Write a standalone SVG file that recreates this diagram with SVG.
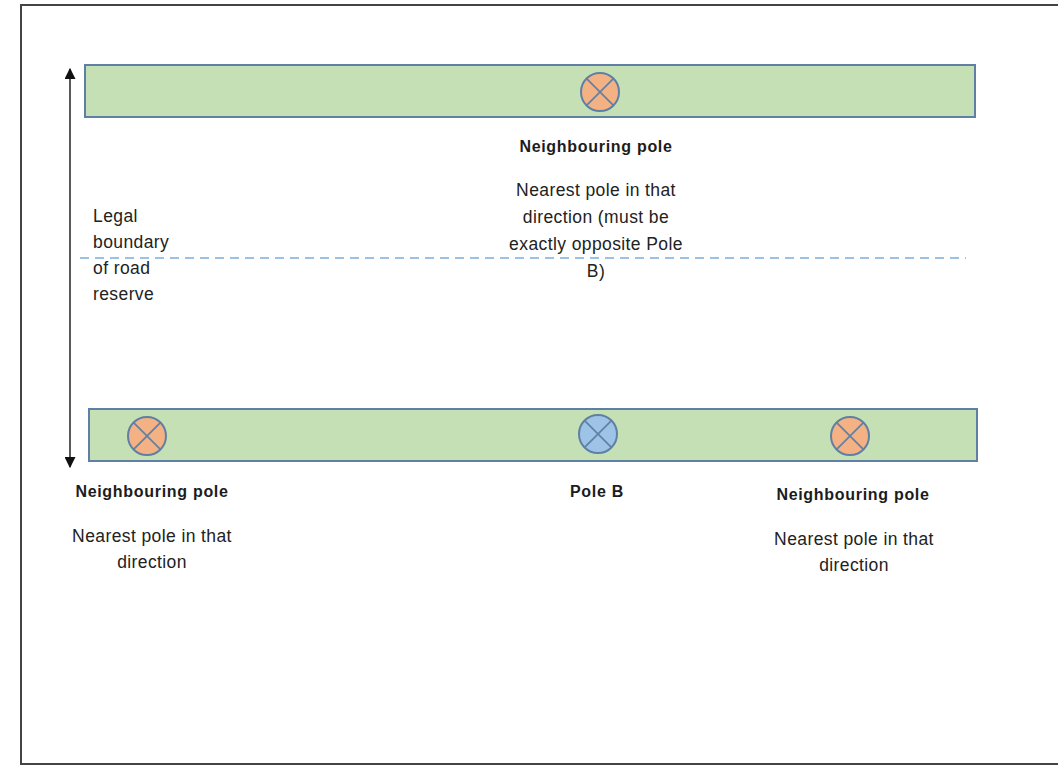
<svg xmlns="http://www.w3.org/2000/svg" width="1058" height="765" viewBox="0 0 1058 765">
  <defs>
    <style>
      .frame { fill: #ffffff; stroke: #444444; stroke-width: 2; }
      .verge { fill: #c5e0b4; stroke: #5f80a4; stroke-width: 2; }
      .pole-n { fill: #f4b183; stroke: #5f80a4; stroke-width: 2; }
      .pole-b { fill: #9dc3e6; stroke: #5f80a4; stroke-width: 2; }
      .cross { stroke: #5f80a4; stroke-width: 1.6; }
      .boundary { stroke: #7aaee0; stroke-width: 1.5; stroke-dasharray: 9 6; fill: none; }
      .dim { stroke: #222222; stroke-width: 1.5; fill: none; }
      .title { font-family: "Liberation Sans", Arial, sans-serif; font-size: 16px; font-weight: bold; letter-spacing: 0.7px; fill: #1c1c1c; text-anchor: middle; }
      .note { font-family: "Liberation Sans", Arial, sans-serif; font-size: 17.5px; letter-spacing: 0.4px; fill: #222222; text-anchor: middle; }
      .side { font-family: "Liberation Sans", Arial, sans-serif; font-size: 17.5px; letter-spacing: 0.4px; fill: #222222; }
    </style>
    <marker id="arrowhead" viewBox="0 0 10 10" refX="9" refY="5" markerWidth="11" markerHeight="11" markerUnits="userSpaceOnUse" orient="auto-start-reverse">
      <path d="M0,0 L10,5 L0,10 Z" fill="#111111"/>
    </marker>
    <g id="poleCross">
      <line class="cross" x1="-13.4" y1="-13.4" x2="13.4" y2="13.4"/>
      <line class="cross" x1="-13.4" y1="13.4" x2="13.4" y2="-13.4"/>
    </g>
  </defs>

  <rect class="frame" x="21" y="5" width="1050" height="759"/>

  <!-- road verges -->
  <rect id="verge-top" class="verge" x="85" y="65" width="890" height="52"/>
  <rect id="verge-bottom" class="verge" x="89" y="409" width="888" height="52"/>

  <!-- connectors: road reserve width and legal boundary -->
  <g id="connectors">
    <line class="dim" x1="70" y1="69" x2="70" y2="467" marker-start="url(#arrowhead)" marker-end="url(#arrowhead)"/>
    <line class="boundary" x1="80" y1="258" x2="966" y2="258"/>
  </g>

  <g id="label-boundary">
    <text class="side" x="93" y="222">Legal</text>
    <text class="side" x="93" y="248">boundary</text>
    <text class="side" x="93" y="274">of road</text>
    <text class="side" x="93" y="300">reserve</text>
  </g>

  <g id="pole-opposite">
    <circle class="pole-n" cx="600" cy="92" r="19"/>
    <use href="#poleCross" x="600" y="92"/>
    <text class="title" x="596" y="152">Neighbouring pole</text>
    <text class="note" x="596" y="196">Nearest pole in that</text>
    <text class="note" x="596" y="223">direction (must be</text>
    <text class="note" x="596" y="250">exactly opposite Pole</text>
    <text class="note" x="596" y="277">B)</text>
  </g>

  <g id="pole-left">
    <circle class="pole-n" cx="147" cy="436" r="19"/>
    <use href="#poleCross" x="147" y="436"/>
    <text class="title" x="152" y="497">Neighbouring pole</text>
    <text class="note" x="152" y="542">Nearest pole in that</text>
    <text class="note" x="152" y="568">direction</text>
  </g>

  <g id="pole-b">
    <circle class="pole-b" cx="598" cy="434" r="19"/>
    <use href="#poleCross" x="598" y="434"/>
    <text class="title" x="597" y="497">Pole B</text>
  </g>

  <g id="pole-right">
    <circle class="pole-n" cx="850" cy="436" r="19"/>
    <use href="#poleCross" x="850" y="436"/>
    <text class="title" x="853" y="500">Neighbouring pole</text>
    <text class="note" x="854" y="545">Nearest pole in that</text>
    <text class="note" x="854" y="571">direction</text>
  </g>
</svg>
